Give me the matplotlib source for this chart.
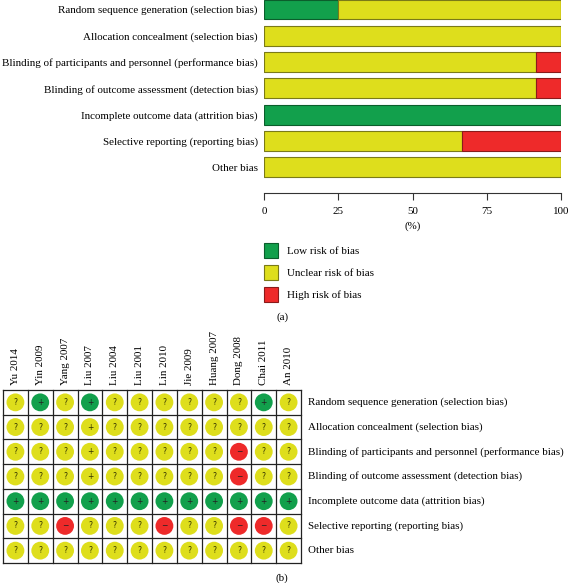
import matplotlib
matplotlib.use("Agg")
import matplotlib.pyplot as plt
from matplotlib.patches import Patch
import numpy as np

plt.rcParams['font.family'] = ['Liberation Serif', 'DejaVu Serif']

domains = [
    "Random sequence generation (selection bias)",
    "Allocation concealment (selection bias)",
    "Blinding of participants and personnel (performance bias)",
    "Blinding of outcome assessment (detection bias)",
    "Incomplete outcome data (attrition bias)",
    "Selective reporting (reporting bias)",
    "Other bias",
]
low_pct = [25, 0, 0, 0, 100, 0, 0]
unclear_pct = [75, 100, 91.7, 91.7, 0, 66.7, 100]
high_pct = [0, 0, 8.3, 8.3, 0, 33.3, 0]
pct_ticks = [0, 25, 50, 75, 100]
legend_labels = ["Low risk of bias", "Unclear risk of bias", "High risk of bias"]

studies = ["Yu 2014", "Yin 2009", "Yang 2007", "Liu 2007", "Liu 2004", "Liu 2001",
           "Lin 2010", "Jie 2009", "Huang 2007", "Dong 2008", "Chai 2011", "An 2010"]
# colour code per cell: L=low (green), U=unclear (yellow), H=high (red)
judgement = [
    "ULULUUUUUULU",
    "UUUUUUUUUUUU",
    "UUUUUUUUUHUU",
    "UUUUUUUUUHUU",
    "LLLLLLLLLLLL",
    "UUHUUUHUUHHU",
    "UUUUUUUUUUUU",
]
# symbol shown in each cell
symbols = [
    ["?", "+", "?", "+", "?", "?", "?", "?", "?", "?", "+", "?"],
    ["?", "?", "?", "+", "?", "?", "?", "?", "?", "?", "?", "?"],
    ["?", "?", "?", "+", "?", "?", "?", "?", "?", "−", "?", "?"],
    ["?", "?", "?", "+", "?", "?", "?", "?", "?", "−", "?", "?"],
    ["+"] * 12,
    ["?", "?", "−", "?", "?", "?", "−", "?", "?", "−", "−", "?"],
    ["?"] * 12,
]

GREEN = "#12A04C"
YELLOW = "#DEDE1C"
RED = "#EE2A2A"
cmap = {"L": GREEN, "U": YELLOW, "H": RED}
edge = {"L": "#0B5E2C", "U": "#7A7A18", "H": "#8A1A1A"}

W, H = 568, 583
fig = plt.figure(figsize=(W / 100, H / 100), dpi=100)
FS = 7.9

def fx(px):
    return px / W

def fy(py):
    return 1 - py / H

# ---------------- panel (a) ----------------
ax_left, ax_right = 264, 561
ax_top, ax_bot = 0, 193
ax = fig.add_axes([fx(ax_left), fy(ax_bot), fx(ax_right - ax_left), (ax_bot - ax_top) / H])
n = len(domains)
ypos = np.arange(n)
spacing = 26.3
ax.set_ylim((ax_bot - 9.5) / spacing, -9.5 / spacing)
ax.set_xlim(0, 100)
bh = 0.76
ax.barh(ypos, low_pct, height=bh, color=GREEN, edgecolor=edge["L"], linewidth=0.8)
ax.barh(ypos, unclear_pct, left=low_pct, height=bh, color=YELLOW, edgecolor=edge["U"], linewidth=0.8)
left_h = [a + b for a, b in zip(low_pct, unclear_pct)]
ax.barh(ypos, high_pct, left=left_h, height=bh, color=RED, edgecolor=edge["H"], linewidth=0.8)
ax.set_yticks(ypos)
ax.set_yticklabels(domains, fontsize=FS)
ax.tick_params(axis='y', length=0, pad=4.5)
ax.set_xticks(pct_ticks)
ax.set_xticklabels([str(t) for t in pct_ticks], fontsize=FS)
ax.tick_params(axis='x', length=5, width=0.8, color="#333333", pad=5)
ax.set_xlabel("(%)", fontsize=FS, labelpad=4)
for s in ["top", "left", "right"]:
    ax.spines[s].set_visible(False)
ax.spines["bottom"].set_color("#333333")
ax.spines["bottom"].set_linewidth(0.8)

handles = [Patch(facecolor=GREEN, edgecolor=edge["L"], linewidth=0.8),
           Patch(facecolor=YELLOW, edgecolor=edge["U"], linewidth=0.8),
           Patch(facecolor=RED, edgecolor=edge["H"], linewidth=0.8)]
fig.legend(handles, legend_labels, loc="upper left", bbox_to_anchor=(fx(264), fy(243)),
           frameon=False, fontsize=FS, borderpad=0, borderaxespad=0,
           handlelength=1.3, handleheight=1.75, labelspacing=0.62, handletextpad=0.8)
fig.text(fx(283), fy(317), "(a)", fontsize=FS, ha="center", va="center")

# ---------------- panel (b) ----------------
g_left, g_right, g_top, g_bot = 3, 301, 390, 563
bx = fig.add_axes([fx(g_left), fy(g_bot), fx(g_right - g_left), (g_bot - g_top) / H])
ncol = len(studies)
bx.set_xlim(0, ncol)
bx.set_ylim(n, 0)
bx.axis("off")
for i in range(ncol + 1):
    bx.plot([i, i], [0, n], color="#222222", lw=0.9, clip_on=False)
for j in range(n + 1):
    bx.plot([0, ncol], [j, j], color="#222222", lw=0.9, clip_on=False)
for r in range(n):
    for c in range(ncol):
        code = judgement[r][c]
        bx.scatter([c + 0.5], [r + 0.5], s=165, color=cmap[code], edgecolors="none", zorder=3)
        bx.text(c + 0.5, r + 0.5, symbols[r][c], fontsize=5.5, ha="center", va="center",
                color="#333300" if code == "U" else "#222222", zorder=4,
                family=["DejaVu Sans"])
for c, s in enumerate(studies):
    bx.text(c + 0.5, -0.2, s, rotation=90, ha="center", va="bottom", fontsize=FS, clip_on=False)
for r, d in enumerate(domains):
    bx.text(ncol + 0.28, r + 0.5, d, ha="left", va="center", fontsize=FS, clip_on=False)
fig.text(fx(282), fy(578), "(b)", fontsize=FS, ha="center", va="center")

fig.savefig("out.png", dpi=100)
